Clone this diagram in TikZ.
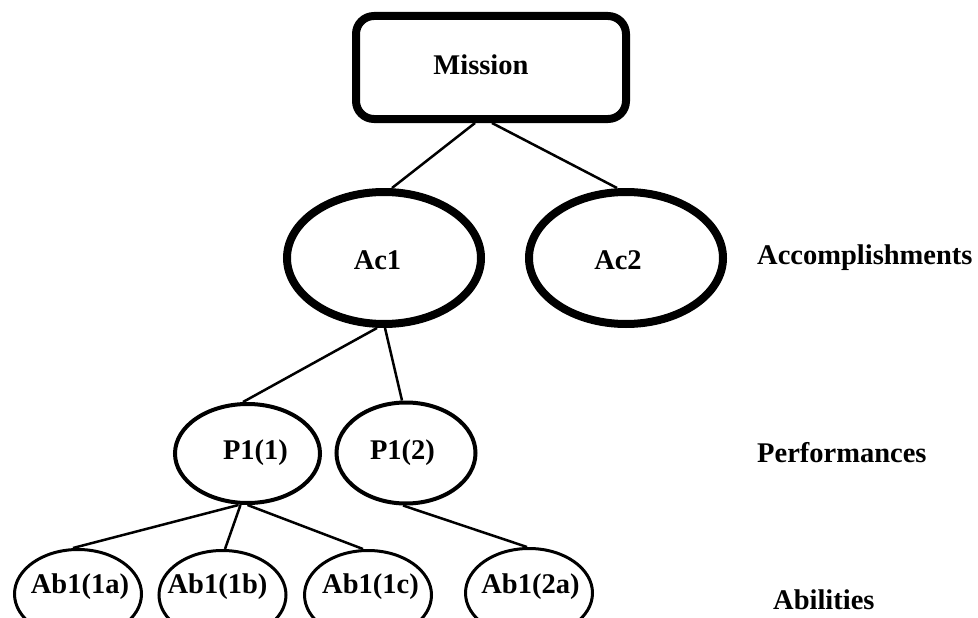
\documentclass[tikz,border=0pt]{standalone}
\usepackage{fontspec}
\setmainfont{Liberation Serif}
\usetikzlibrary{shapes.geometric}

\begin{document}
\begin{tikzpicture}[x=1pt, y=-1pt,
  every node/.style={font=\fontsize{28.5}{34}\selectfont\bfseries},
  missionbox/.style={draw, line width=8pt, rounded corners=18pt, inner sep=0pt,
    minimum width=270pt, minimum height=103pt},
  accomp/.style={draw, ellipse, line width=8pt, inner sep=0pt,
    minimum width=194pt, minimum height=132pt},
  perf/.style={draw, ellipse, line width=4pt, inner sep=0pt},
  ability/.style={draw, ellipse, line width=3pt, inner sep=0pt,
    minimum width=127pt, minimum height=89pt},
  txt/.style={inner sep=0pt},
  link/.style={line width=2.5pt},
  level/.style={anchor=west, inner sep=0pt}
]
  \useasboundingbox (0,0) rectangle (978,618);

  % top of the hierarchy
  \node[missionbox] (mission) at (491,67.5) {};
  \node[txt] (missiontxt) at (481,65) {Mission};

  % accomplishments
  \node[accomp] (ac1) at (384,258) {};
  \node[txt] (ac1txt) at (377.5,260) {Ac1};
  \node[accomp] (ac2) at (626,258) {};
  \node[txt] (ac2txt) at (618,260) {Ac2};

  % performances
  \node[perf, minimum width=145pt, minimum height=99pt] (p11) at (247.5,453.5) {};
  \node[txt] (p11txt) at (255.5,453) {P1(1)};
  \node[perf, minimum width=139pt, minimum height=101pt] (p12) at (406,453) {};
  \node[txt] (p12txt) at (402.5,453) {P1(2)};

  % abilities
  \node[ability] (ab1a) at (78,594) {};
  \node[txt] (ab1atxt) at (80,587) {Ab1(1a)};
  \node[ability] (ab1b) at (222.5,595) {};
  \node[txt] (ab1btxt) at (217.5,587) {Ab1(1b)};
  \node[ability] (ab1c) at (368,595) {};
  \node[txt] (ab1ctxt) at (370.5,587) {Ab1(1c)};
  \node[ability] (ab2a) at (529,593) {};
  \node[txt] (ab2atxt) at (530.5,587) {Ab1(2a)};

  % level names
  \node[level] (lacc) at (757,258) {Accomplishments};
  \node[level] (lperf) at (757,453) {Performances};
  \node[level] (labil) at (773,600) {Abilities};

  % connectors
  \draw[link] ([xshift=-16pt]mission.south) -- ([xshift=8pt]ac1.north);
  \draw[link] ([xshift=1pt]mission.south) -- ([xshift=-9pt]ac2.north);
  \draw[link] ([xshift=-7pt]ac1.south) -- ([xshift=-4.5pt]p11.north);
  \draw[link] ([xshift=1pt]ac1.south) -- ([xshift=-4pt]p12.north);
  \draw[link] ([xshift=-9pt]p11.south) -- ([xshift=-5pt]ab1a.north);
  \draw[link] ([xshift=-7pt]p11.south) -- ([xshift=2.5pt]ab1b.north);
  \draw[link] ([xshift=0pt]p11.south) -- ([xshift=-5pt]ab1c.north);
  \draw[link] ([xshift=-3pt]p12.south) -- ([xshift=-2pt]ab2a.north);
\end{tikzpicture}
\end{document}
